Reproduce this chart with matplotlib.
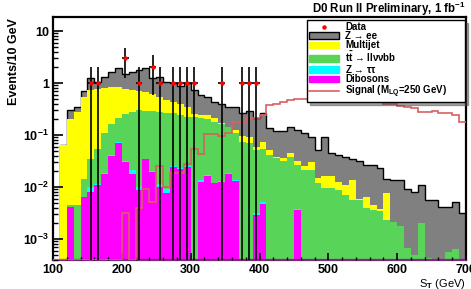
import numpy as np
import matplotlib.pyplot as plt
from matplotlib.lines import Line2D
from matplotlib.patches import Patch
from matplotlib.ticker import MultipleLocator, FixedLocator, NullFormatter

plt.rcParams['font.family'] = 'Liberation Sans'
plt.rcParams['font.weight'] = 'bold'
plt.rcParams['mathtext.fontset'] = 'custom'
plt.rcParams['mathtext.rm'] = 'Liberation Sans:bold'
plt.rcParams['mathtext.bf'] = 'Liberation Sans:bold'
plt.rcParams['mathtext.it'] = 'Liberation Sans:bold:italic'
plt.rcParams['mathtext.default'] = 'bf'

# 10 GeV bins from 100 to 700 GeV
edges = np.arange(100, 710, 10)

# stacked heights (cumulative, as drawn by the stack)
top_zee = [0, 0.065, 0.30, 0.35, 0.70, 1.25, 1.05, 1.30, 1.60, 1.95,
           1.50, 1.60, 1.80, 1.92, 1.27, 1.32, 1.06, 1.01, 0.87, 0.98,
           0.73, 0.59, 0.55, 0.44, 0.39, 0.35, 0.35, 0.27, 0.29, 0.21,
           0.26, 0.135, 0.12, 0.12, 0.14, 0.125, 0.11, 0.093, 0.051, 0.093,
           0.046, 0.041, 0.038, 0.034, 0.031, 0.027, 0.027, 0.023, 0.014, 0.0137,
           0.0137, 0.0091, 0.0081, 0.011, 0.0056, 0.0056, 0.0042, 0.0042, 0.0052, 0.0032]
top_multijet = [0, 0.065, 0.20, 0.28, 0.55, 0.72, 0.77, 0.80, 0.83, 0.82,
                0.78, 0.74, 0.70, 0.66, 0.61, 0.55, 0.47, 0.43, 0.39, 0.35,
                0.25, 0.24, 0.24, 0.21, 0.17, 0.145, 0.124, 0.096, 0.09, 0.058,
                0.072, 0.052, 0.038, 0.036, 0.046, 0.032, 0.025, 0.030, 0.015, 0.016,
                0.016, 0.0126, 0.011, 0.0137, 0.006, 0.0063, 0.0045, 0.0038, 0.0076, 0.0021,
                0.0018, 0.00067, 0.0005, 0.002, 0.00043, 0, 0, 0.00056, 0.00063, 0]
top_ttbar = [0, 0, 0.0045, 0.0045, 0.014, 0.034, 0.053, 0.108, 0.163, 0.21,
             0.25, 0.28, 0.30, 0.29, 0.29, 0.28, 0.27, 0.26, 0.24, 0.225,
             0.22, 0.21, 0.20, 0.18, 0.16, 0.14, 0.11, 0.074, 0.069, 0.052,
             0.055, 0.041, 0.036, 0.031, 0.038, 0.026, 0.021, 0.021, 0.012, 0.0094,
             0.0094, 0.0087, 0.007, 0.0056, 0.0056, 0.004, 0.0036, 0.0034, 0.0023, 0.0021,
             0.0018, 0.00067, 0.0005, 0.002, 0.00043, 0, 0, 0.00056, 0.00063, 0]
top_ztautau = [0, 0, 0.0042, 0, 0.0065, 0.0098, 0.0115, 0.0185, 0.041, 0.073,
               0.031, 0.021, 0.0098, 0.035, 0.0203, 0.0114, 0.0091, 0.025, 0.023, 0.025,
               0.00042, 0.0135, 0.0168, 0.0122, 0.013, 0.0185, 0.0136, 0, 0, 0.0032,
               0.0051, 0, 0, 0, 0, 0.0038, 0, 0, 0, 0,
               0, 0, 0, 0, 0, 0, 0, 0, 0, 0,
               0, 0, 0, 0, 0, 0, 0, 0, 0, 0]
top_diboson = [0, 0, 0.0041, 0, 0.0063, 0.0081, 0.011, 0.018, 0.040, 0.071,
               0.030, 0.018, 0.0087, 0.034, 0.0197, 0.0101, 0.0076, 0.024, 0.022, 0.024,
               0, 0.0126, 0.016, 0.0118, 0.0126, 0.018, 0.0132, 0, 0, 0.0029,
               0.0048, 0, 0, 0, 0, 0.0036, 0, 0, 0, 0,
               0, 0, 0, 0, 0, 0, 0, 0, 0, 0,
               0, 0, 0, 0, 0, 0, 0, 0, 0, 0]
signal = [0, 0, 0, 0, 0, 0, 0, 0, 0, 0,
          0.0031, 0, 0.004, 0.0091, 0.0052, 0.025, 0.0098, 0.019, 0.019, 0.028,
          0.054, 0.043, 0.105, 0.105, 0.096, 0.11, 0.175, 0.175, 0.21, 0.21,
          0.24, 0.37, 0.39, 0.44, 0.47, 0.50, 0.49, 0.54, 0.55, 0.55,
          0.48, 0.60, 0.59, 0.62, 0.60, 0.50, 0.46, 0.46, 0.40, 0.40,
          0.36, 0.34, 0.33, 0.28, 0.28, 0.29, 0.27, 0.26, 0.24, 0.18]

# data: bin centres and event counts
data_st = [155, 165, 205, 225, 245, 255, 275, 285, 295, 305, 345, 375, 385, 395]
data_n = [1, 1, 3, 1, 2, 1, 1, 1, 1, 1, 1, 1, 1, 1]

c_zee, c_mj, c_tt, c_ztt, c_vv = '#808080', '#ffff00', '#58d458', '#00ffff', '#ff00ff'
c_sig = '#d86060'

ymin, ymax = 3.95e-4, 18.6
floor = 1e-6

def nz(v):
    v = np.asarray(v, dtype=float)
    return np.where(v > 0, v, floor)

fig = plt.figure(figsize=(4.71, 2.89), dpi=100)
ax = fig.add_axes([53 / 471, 1 - 260 / 289, 413 / 471, 243 / 289])
ax.set_yscale('log')

ax.stairs(nz(top_zee), edges, baseline=floor, fill=True, color=c_zee)
ax.stairs(nz(top_zee), edges, baseline=floor, color='black', lw=1.0)
ax.stairs(nz(top_multijet), edges, baseline=floor, fill=True, color=c_mj)
ax.stairs(nz(top_ttbar), edges, baseline=floor, fill=True, color=c_tt)
ax.stairs(nz(top_ztautau), edges, baseline=floor, fill=True, color=c_ztt)
ax.stairs(nz(top_diboson), edges, baseline=floor, fill=True, color=c_vv)

sig = np.asarray(signal, dtype=float)
ax.stairs(np.where(sig > 0, sig, ymin), edges, baseline=None, color=c_sig, lw=1.2, zorder=3)

n = np.asarray(data_n, dtype=float)
err = np.sqrt(n)
lo = np.where(n - err > 0, err, n - 1e-5)
ax.errorbar(data_st, n, yerr=[lo, err], xerr=5, fmt='o', ms=2.2, mfc='red', mec='red',
            ecolor='black', elinewidth=1.2, capsize=0, zorder=4)

ax.set_xlim(100, 700)
ax.set_ylim(ymin, ymax)
ax.set_axisbelow(False)

ax.set_xticks(np.arange(100, 701, 100))
ax.set_xticklabels([str(v) for v in range(100, 701, 100)])
ax.xaxis.set_minor_locator(MultipleLocator(20))
ax.yaxis.set_major_locator(FixedLocator([1e-3, 1e-2, 1e-1, 1, 10]))
ax.set_yticklabels([r'$10^{-3}$', r'$10^{-2}$', r'$10^{-1}$', '1', '10'])
ax.yaxis.set_minor_formatter(NullFormatter())

ax.tick_params(axis='both', which='both', direction='in', top=False, right=False, labelsize=9)
ax.tick_params(axis='y', which='major', length=7, width=1.2, pad=3)
ax.tick_params(axis='y', which='minor', length=3.5, width=1.0)
ax.tick_params(axis='x', which='major', length=5, width=1.2, pad=3)
ax.tick_params(axis='x', which='minor', length=2.5, width=1.0)

for s in ax.spines.values():
    s.set_linewidth(1.6)
ax.spines['bottom'].set_color('#7a2a7a')

fig.text(14 / 471, 1 - 18 / 289, 'Events/10 GeV', rotation=90, ha='center', va='top',
         fontsize=9, weight='bold')
ax.set_xlabel(r'S$_{T}$ (GeV)', loc='right', fontsize=8)
ax.xaxis.set_label_coords(1.0, -0.068)

fig.text(466 / 471, 1 - 9 / 289, r'D0 Run II Preliminary, 1 fb$^{-1}$',
         ha='right', va='center', fontsize=8.3)

handles = [Line2D([], [], marker='o', ls='none', color='red', ms=2.2),
           Patch(facecolor=c_zee, edgecolor='black'),
           Patch(facecolor=c_mj, edgecolor=c_mj),
           Patch(facecolor=c_tt, edgecolor=c_tt),
           Patch(facecolor=c_ztt, edgecolor=c_ztt),
           Patch(facecolor=c_vv, edgecolor=c_vv),
           Line2D([], [], color=c_sig, lw=1.2)]
labels = ['Data', 'Z → ee', 'Multijet', r't$\bar{t}$ → ll$\nu\nu$bb', r'Z → $\tau\tau$',
          'Dibosons', r'Signal (M$_{LQ}$=250 GeV)']
leg = ax.legend(handles, labels, loc='upper left',
                bbox_to_anchor=(307 / 471, 1 - 95 / 289, 158 / 471, 75 / 289),
                bbox_transform=fig.transFigure, mode='expand', fontsize=7, frameon=True,
                fancybox=False, shadow=True, edgecolor='black', framealpha=1,
                handlelength=3.1, handleheight=0.7, labelspacing=-0.08, borderpad=0.2,
                handletextpad=0.6, borderaxespad=0)
leg.get_frame().set_linewidth(1.0)

plt.savefig('out.png', dpi=100)
